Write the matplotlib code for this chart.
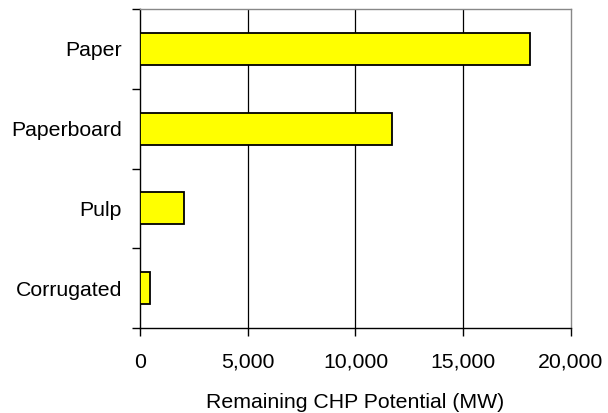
import matplotlib
matplotlib.use('Agg')
import matplotlib.pyplot as plt
import numpy as np

# remaining CHP potential by pulp & paper sub-sector
sectors = ['Paper', 'Paperboard', 'Pulp', 'Corrugated']
potential_mw = [18100, 11700, 2050, 450]

plt.rcParams['font.family'] = ['Liberation Sans', 'DejaVu Sans']

fig = plt.figure(figsize=(6.08, 4.13), dpi=100)
ax = fig.add_axes([0.2303, 0.206, 0.7087, 0.772])

y = np.arange(len(sectors))[::-1]
ax.barh(y, potential_mw, height=0.4, color='#FFFF00', edgecolor='black',
        linewidth=1.3, zorder=3)

ax.set_xlim(0, 20000)
ax.set_ylim(-0.5, len(sectors) - 0.5)

# vertical gridlines
for xv in [5000, 10000, 15000]:
    ax.axvline(xv, color='black', linewidth=0.9, zorder=1)

fs = 15.3
ax.set_xticks([0, 5000, 10000, 15000, 20000])
ax.set_xticklabels([f'{v:,}' for v in [0, 5000, 10000, 15000, 20000]], fontsize=fs)
ax.set_yticks(y)
ax.set_yticklabels(sectors, fontsize=fs)
ax.tick_params(axis='y', which='major', length=0, pad=13)
ax.set_yticks(np.arange(len(sectors) + 1) - 0.5, minor=True)
ax.tick_params(axis='y', which='minor', length=6, width=1, direction='out')
ax.tick_params(axis='x', length=6, width=1, direction='out', pad=12)

ax.set_xlabel('Remaining CHP Potential (MW)', fontsize=fs, labelpad=15)

ax.spines['top'].set_color('#888888')
ax.spines['right'].set_color('#888888')
for s in ax.spines.values():
    s.set_linewidth(1.0)

fig.savefig('out.png', dpi=100)
